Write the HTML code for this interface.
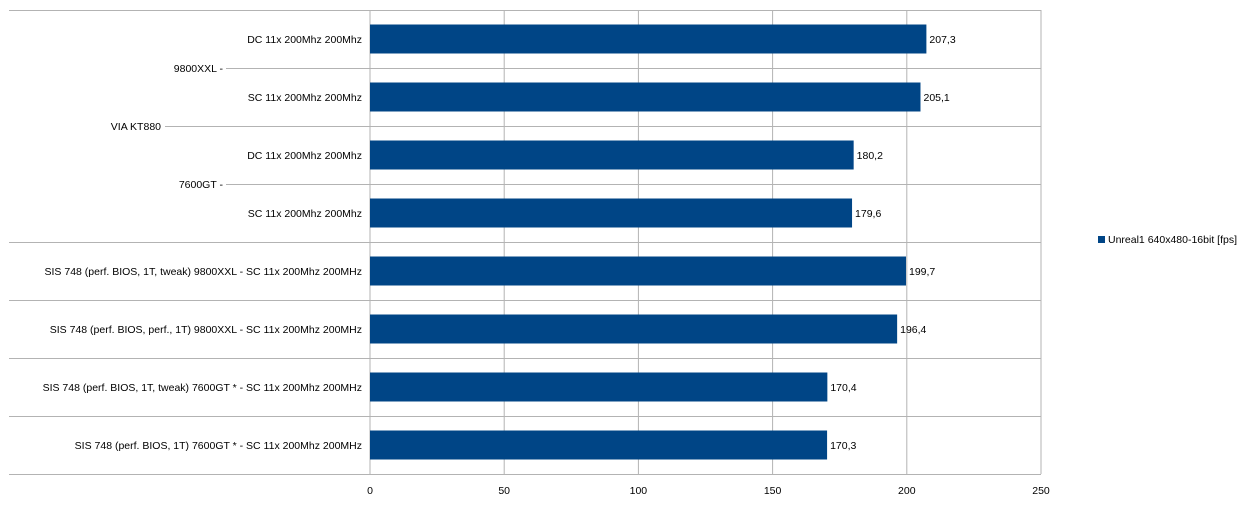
<!DOCTYPE html>
<html><head><meta charset="utf-8"><style>
body{margin:0;background:#fff;width:1248px;height:508px;overflow:hidden}
svg text{font-family:"Liberation Sans",sans-serif;font-size:10.5px;fill:#000}
</style></head><body>
<svg id="chart" width="1248" height="508"></svg>
<script>
const categories=["DC  11x  200Mhz  200Mhz","SC  11x  200Mhz  200Mhz","DC  11x  200Mhz  200Mhz","SC  11x  200Mhz  200Mhz","SIS 748 (perf. BIOS,  1T, tweak)   9800XXL   -   SC   11x   200Mhz   200MHz","SIS 748 (perf. BIOS,  perf.,  1T)   9800XXL   -   SC   11x   200Mhz   200MHz","SIS 748 (perf. BIOS,  1T, tweak)  7600GT *   -   SC   11x   200Mhz   200MHz","SIS 748 (perf. BIOS,  1T)  7600GT *   -   SC   11x   200Mhz   200MHz"];
const values=[207.3,205.1,180.2,179.6,199.7,196.4,170.4,170.3];
const valueLabels=["207,3","205,1","180,2","179,6","199,7","196,4","170,4","170,3"];
const ticks=[0,50,100,150,200,250];
const svg=document.getElementById('chart');
const NS='http://www.w3.org/2000/svg';
const x0=370,x1=1041,yTop=10,rowH=58,n=values.length,yBot=yTop+rowH*n;
const xs=v=>x0+(v/250)*(x1-x0);
const ys=i=>yTop+i*rowH;
function mk(t,a){const e=document.createElementNS(NS,t);for(const k in a)e.setAttribute(k,a[k]);svg.appendChild(e);return e;}
// grid
ticks.forEach(t=>{
 const l=mk('line',{x1:xs(t),x2:xs(t),y1:yTop,y2:yBot,stroke:t===0?'#b3b3b3':'#b3b3b3','stroke-width':1});
 
 
 const tx=mk('text',{x:xs(t),y:yBot+20,'text-anchor':'middle'});tx.textContent=t;
 
 
});
// row separators
const sepStart=[9,226,165,226,9,9,9,9,9];
for(let i=0;i<=n;i++){
 const l=mk('line',{x1:sepStart[i],x2:x1,y1:ys(i)+0.5,y2:ys(i)+0.5,stroke:'#b3b3b3','stroke-width':1});
 
 
}
// group labels
[["9800XXL   -",ys(1)+4,223],["VIA KT880",ys(2)+4,161],["7600GT   -",ys(3)+4,223]].forEach(g=>{
 const t=mk('text',{x:g[2],y:g[1],'text-anchor':'end'});t.textContent=g[0];
 
 
});
values.forEach((v,i)=>{
 const yc=ys(i)+rowH/2;
 const b=mk('rect',{x:x0,y:yc-14.5,width:xs(v)-x0,height:29,fill:'#004586'});
 
 
 const lab=mk('text',{x:xs(v)+3,y:yc+4});lab.textContent=valueLabels[i];
 
 
 const c=mk('text',{x:362,y:yc+4,'text-anchor':'end','xml:space':'preserve'});c.textContent=categories[i];
 
 
});
const lg=mk('rect',{x:1098,y:236,width:7,height:7,fill:'#004586'});


const lt=mk('text',{x:1108,y:243});lt.textContent='Unreal1 640x480-16bit [fps]';


</script>
</body></html>
